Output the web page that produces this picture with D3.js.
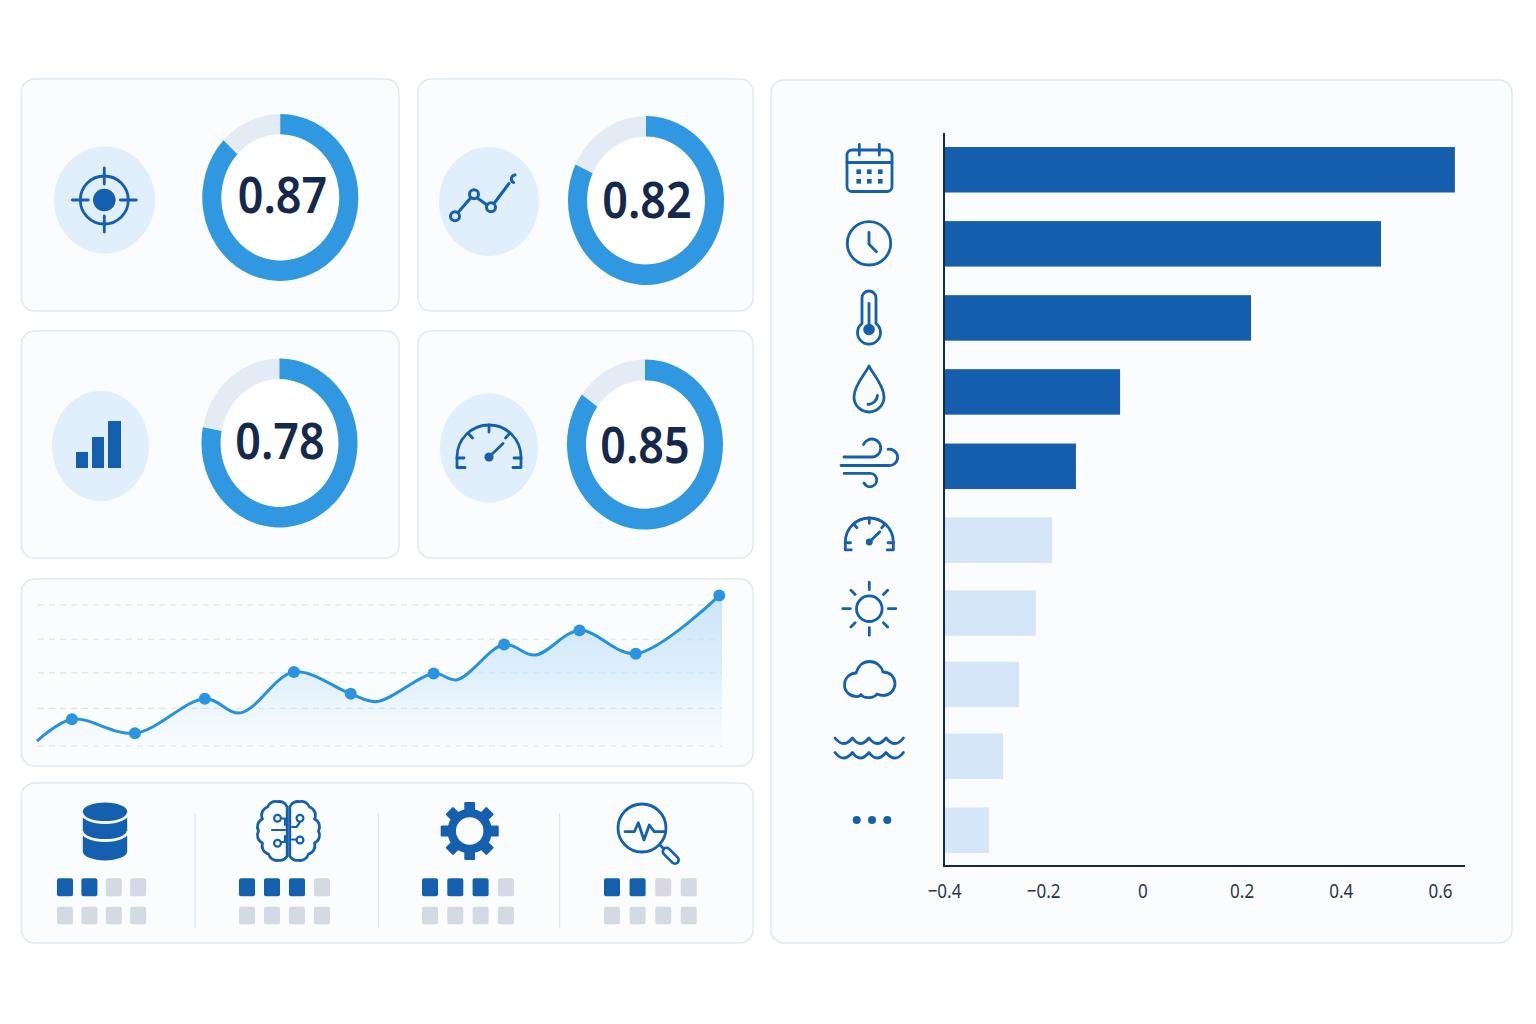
<!DOCTYPE html>
<html>
<head>
<meta charset="utf-8">
<script src="https://cdn.jsdelivr.net/npm/d3@7/dist/d3.min.js"></script>
<style>
html,body{margin:0;padding:0;background:#fff;}
svg{display:block;}
text{font-family:"Noto Sans",Roboto,sans-serif;}
</style>
</head>
<body>
<svg id="board" width="1536" height="1024"></svg>
<script>
// Score rings
const scoreValues = [0.87, 0.82, 0.78, 0.85];
const scoreLabels = ["0.87", "0.82", "0.78", "0.85"];

// Trend line (position along the run, level)
const trendPosition = [0, 5.1, 14.3, 24.5, 29.7, 37.5, 45.8, 49.6, 57.9, 61.3, 68.2, 72.7, 79.2, 87.4, 99.6];
const trendLevel = [3.5, 19, 9, 33.5, 23.5, 52.5, 37, 31.5, 51.5, 47, 72, 64.5, 82, 65.5, 106.7];
const trendMarked = [0, 1, 1, 1, 0, 1, 1, 0, 1, 0, 1, 0, 1, 1, 1];
const trendGrid = [0, 26.7, 51.8, 75.7, 100];

// Module status tiles: how many of eight are lit
const moduleNames = ["database", "brain", "gear", "search"];
const moduleLit = [2, 3, 3, 2];

// Horizontal bars
const factorNames = ["date", "time", "temperature", "humidity", "wind", "pressure", "sunshine", "cloud", "waves", "other"];
const factorValues = [0.63, 0.481, 0.219, -0.045, -0.134, -0.182, -0.215, -0.249, -0.281, -0.309];
const factorStrong = [1, 1, 1, 1, 1, 0, 0, 0, 0, 0];
const axisTicks = [-0.4, -0.2, 0, 0.2, 0.4, 0.6];
const axisLabels = ["\u22120.4", "\u22120.2", "0", "0.2", "0.4", "0.6"];

const BLUE = "#1560ae", SKY = "#2f98e0", PALE = "#e0effb", INK = "#15294c", CARD = "#fafcfe";
const svg = d3.select("#board");

// ---------- panels ----------
const panels = [
  [21.5, 79, 377.5, 232], [418, 79, 335, 232],
  [21.5, 331, 377.5, 227], [418, 331, 335, 227],
  [21.5, 579, 731.5, 187], [21.5, 783, 731.5, 160],
  [771, 80, 741, 863]
];
svg.append("g").selectAll("rect").data(panels).join("rect")
  .attr("x", d => d[0]).attr("y", d => d[1]).attr("width", d => d[2]).attr("height", d => d[3])
  .attr("rx", 13).attr("fill", CARD).attr("stroke", "#dfe9f3").attr("stroke-width", 1.5);

// ---------- score rings ----------
const ringLayout = [
  {cx: 280.3, cy: 197.5, sy: 1.07, tx: 282.5, ty: 195, bx: 104.5, by: 200, brx: 50.5, bry: 53.5},
  {cx: 646, cy: 200.5, sy: 1.083, tx: 647, ty: 200, bx: 489, by: 201.5, brx: 50, bry: 54.5},
  {cx: 279.5, cy: 443, sy: 1.083, tx: 280, ty: 441, bx: 100.5, by: 446, brx: 48.5, bry: 55},
  {cx: 645, cy: 444.5, sy: 1.09, tx: 645, ty: 445, bx: 489, by: 448, brx: 49, bry: 54.5}
];
const turn = d3.scaleLinear().domain([0, 1]).range([0, 2 * Math.PI]);
const ringArc = d3.arc().innerRadius(59).outerRadius(78);

scoreValues.forEach((v, i) => {
  const L = ringLayout[i];
  svg.append("ellipse").attr("cx", L.bx).attr("cy", L.by).attr("rx", L.brx).attr("ry", L.bry).attr("fill", PALE);
  const g = svg.append("g").attr("transform", `translate(${L.cx},${L.cy}) scale(1,${L.sy})`);
  g.append("circle").attr("r", 59).attr("fill", "#fff");
  g.append("path").attr("d", ringArc({startAngle: 0, endAngle: 2 * Math.PI})).attr("fill", "#e3ecf5");
  g.append("path").attr("d", ringArc({startAngle: 0, endAngle: turn(v)})).attr("fill", SKY);
  svg.append("text")
    .attr("transform", `translate(${L.tx},${L.ty + 18.3}) scale(.88,1)`)
    .attr("text-anchor", "middle").attr("font-size", 51).attr("font-weight", 600)
    .attr("fill", INK).text(scoreLabels[i]);
});

// ---------- icon helpers ----------
function icon(x, y, k = 1) {
  return svg.append("g").attr("transform", `translate(${x},${y}) scale(${k})`)
    .attr("fill", "none").attr("stroke", BLUE).attr("stroke-width", 2.8 / k)
    .attr("stroke-linecap", "round").attr("stroke-linejoin", "round");
}
const dot = (g, x, y, r) => g.append("circle").attr("cx", x).attr("cy", y).attr("r", r).attr("fill", BLUE).attr("stroke", "none");
const line = (g, d) => g.append("path").attr("d", d);

function gauge(x, y, k) {
  const g = icon(x, y, k);
  line(g, "M-24 10.5H-32V0A32 32 0 0 1 32 0V10.5H24");
  line(g, "M-32 1H-25M32 1H25M0 -32V-25M-21 -24L-16.5 -19M21 -24L16.5 -19");
  line(g, "M0 0L14 -13.5");
  dot(g, 0, 0, 4.6);
}

// target
{
  const g = icon(104.3, 200);
  g.append("circle").attr("r", 24);
  dot(g, 0, 0, 11.3);
  line(g, "M-32 0H-16M16 0H32M0 -32V-16M0 16V32");
}
// trend sparkline
{
  const g = icon(489, 201.5);
  g.attr("stroke-width", 3);
  line(g, "M-31 11L-18 -4M-11 -3L-2 3.5M5 2L20 -18");
  [[-34, 14.7], [-15, -7.2], [2, 5.8]].forEach(p =>
    g.append("circle").attr("cx", p[0]).attr("cy", p[1]).attr("r", 4.5));
  line(g, "M26 -26.5A4 4 0 0 0 24.5 -19");
}
// signal bars
{
  const g = svg.append("g").attr("fill", BLUE);
  [[76, 452, 12], [92, 437, 12], [108, 421, 13]].forEach(b =>
    g.append("rect").attr("x", b[0]).attr("y", b[1]).attr("width", b[2]).attr("height", 468 - b[1]));
}
gauge(489, 457, 1);

// ---------- trend chart ----------
const tx = d3.scaleLinear().domain([0, 100]).range([37, 722]);
const ty = d3.scaleLinear().domain([0, 100]).range([746, 605]);
const trend = trendPosition.map((p, i) => ({p, v: trendLevel[i], mark: trendMarked[i]}));

const defs = svg.append("defs");
const grad = defs.append("linearGradient").attr("id", "trendFill")
  .attr("gradientUnits", "userSpaceOnUse").attr("x1", 0).attr("x2", 0).attr("y1", 595).attr("y2", 750);
grad.append("stop").attr("offset", 0).attr("stop-color", "#cbe5f9");
grad.append("stop").attr("offset", .55).attr("stop-color", "#e0f0fc");
grad.append("stop").attr("offset", 1).attr("stop-color", "#f8fbfe").attr("stop-opacity", .5);

const curve = d3.curveCatmullRom.alpha(0.5);
const areaData = trend.concat([{p: 100, v: trendLevel[trendLevel.length - 1]}]);
svg.append("path").datum(areaData)
  .attr("d", d3.area().x(d => tx(d.p)).y0(ty(-1)).y1(d => ty(d.v)).curve(curve))
  .attr("fill", "url(#trendFill)");

svg.append("g").selectAll("line").data(trendGrid).join("line")
  .attr("x1", 38).attr("x2", 722).attr("y1", d => ty(d)).attr("y2", d => ty(d))
  .attr("stroke", "#cfe0ef").attr("stroke-opacity", .85).attr("stroke-width", 1.2).attr("stroke-dasharray", "6 5");

svg.append("path").datum(trend)
  .attr("d", d3.line().x(d => tx(d.p)).y(d => ty(d.v)).curve(curve))
  .attr("fill", "none").attr("stroke", "#2592de").attr("stroke-width", 3);
svg.append("g").selectAll("circle").data(trend.filter(d => d.mark)).join("circle")
  .attr("cx", d => tx(d.p)).attr("cy", d => ty(d.v)).attr("r", 6).attr("fill", "#2a94e2");

// ---------- module row ----------
const tileX = [57, 239, 422, 604];
const tilePitch = [24.4, 25, 25.3, 25.6];
moduleNames.forEach((name, m) => {
  const g = svg.append("g").attr("transform", `translate(${tileX[m]},0)`);
  g.selectAll("rect").data(d3.range(8)).join("rect")
    .attr("x", i => (i % 4) * tilePitch[m])
    .attr("y", i => i < 4 ? 878.3 : 906.7)
    .attr("width", 16).attr("height", i => i < 4 ? 18 : 17.6).attr("rx", 2)
    .attr("fill", i => i < moduleLit[m] ? BLUE : "#d4dae3");
});
svg.append("g").selectAll("line").data([195, 378.5, 559.5]).join("line")
  .attr("x1", d => d).attr("x2", d => d).attr("y1", 813).attr("y2", 928)
  .attr("stroke", "#dce7f1").attr("stroke-width", 1.3);

// database
{
  const g = svg.append("g").attr("transform", "translate(105,0)");
  g.append("path").attr("d", "M-22.2 811.5A22.2 9 0 0 1 22.2 811.5V851.5A22.2 9 0 0 1 -22.2 851.5Z").attr("fill", BLUE);
  g.selectAll("path.gap").data([813, 831]).join("path").attr("class", "gap")
    .attr("d", d => `M-23 ${d}A23 9.5 0 0 0 23 ${d}`)
    .attr("fill", "none").attr("stroke", CARD).attr("stroke-width", 2.8);
}
// brain
{
  const g = icon(288.5, 831);
  const lobe = [[-1.3, -24], [-11, -29.3], [-21, -24], [-26, -12], [-30, 0], [-26, 12], [-20, 23], [-10, 29.3], [-1.3, 25]];
  const outline = s => "M" + lobe.map((p, i) => {
    const q = `${s * p[0]} ${p[1]}`;
    return i ? `A8.6 8.6 0 0 ${s > 0 ? 0 : 1} ${q}` : q;
  }).join("") + "Z";
  line(g, outline(1));
  line(g, outline(-1));
  const c = g.append("g").attr("stroke-width", 2.2);
  line(c, "M-16.5 -1H-3.5M-7 -12.5H-3.5V-6M-3.5 5V11H-7");
  line(c, "M3.5 -4H8L11 -8M3.5 8.5H8");
  [[-11, -12.7], [-11, 12.3], [11.5, -12.7], [11.5, 9]].forEach(p =>
    c.append("circle").attr("cx", p[0]).attr("cy", p[1]).attr("r", 3.4));
}
// gear
{
  const g = svg.append("g").attr("transform", "translate(469.7,831)");
  g.selectAll("rect").data(d3.range(8)).join("rect")
    .attr("x", -5.4).attr("y", -29).attr("width", 10.8).attr("height", 14).attr("rx", 1.2)
    .attr("fill", BLUE).attr("transform", i => `rotate(${i * 45})`);
  g.append("circle").attr("r", 18).attr("fill", "none").attr("stroke", BLUE).attr("stroke-width", 8.5);
}
// magnifier with pulse
{
  const g = icon(642, 828);
  g.attr("stroke-width", 3);
  g.append("circle").attr("r", 24);
  g.attr("stroke-width", 2.8);
  line(g, "M-17 3.7H-7.7L-3.7 -5.3L2 12L7.3 -3L12.3 3.7H23.5");
  line(g, "M18 17L23 22");
  g.append("line").attr("x1", 24.5).attr("y1", 23.5).attr("x2", 33).attr("y2", 32).attr("stroke-width", 10);
  g.append("line").attr("x1", 24.5).attr("y1", 23.5).attr("x2", 33).attr("y2", 32).attr("stroke", CARD).attr("stroke-width", 4.6);
}

// ---------- bar chart ----------
const bx = d3.scaleLinear().domain([-0.4, 0.6]).range([944, 1440]);
const by = d3.scaleBand().domain(factorNames).range([147, 853]).paddingInner(0.38);
const rowShift = [0, 0.7, 1.4, 2, 3, 3.5, 3, 1, -0.6, 0];

svg.append("g").selectAll("rect").data(factorNames).join("rect")
  .attr("x", bx(-0.4) + 1).attr("y", (d, i) => by(d) + rowShift[i])
  .attr("width", (d, i) => bx(factorValues[i]) - bx(-0.4) - 1)
  .attr("height", by.bandwidth())
  .attr("fill", (d, i) => factorStrong[i] ? "#155eae" : "#d4e6f7");

const xAxis = svg.append("g").attr("transform", "translate(0,866)")
  .call(d3.axisBottom(bx).tickValues(axisTicks).tickSize(0).tickPadding(0)
    .tickFormat((d, i) => axisLabels[i]));
xAxis.select(".domain").remove();
xAxis.selectAll("text")
  .attr("font-size", 20).attr("fill", "#26364f")
  .attr("font-family", "'Noto Sans'").attr("dy", 0).attr("y", 0)
  .attr("transform", "translate(0,31.5) scale(.85,1)");

svg.append("path").attr("d", "M944 133V866H1465")
  .attr("fill", "none").attr("stroke", INK).attr("stroke-width", 2);

// factor icons
{
  let g = icon(0, 0);
  g.append("rect").attr("x", 847).attr("y", 150).attr("width", 45).attr("height", 41.5).attr("rx", 5);
  line(g, "M847 162.5H892M859.3 144.5V155M879.3 144.5V155");
  [858.7, 869.3, 880.3].forEach(x => [171.7, 181.3].forEach(y =>
    g.append("rect").attr("x", x - 2.3).attr("y", y - 2.3).attr("width", 4.6).attr("height", 4.6).attr("fill", BLUE).attr("stroke", "none")));

  g = icon(869, 243.3);
  g.append("circle").attr("r", 21.7);
  line(g, "M0 -11V1L7.5 8.5");

  g = icon(869, 329.5);
  line(g, "M-7 -6V-31.5A7 7 0 0 1 7 -31.5V-6A11.5 11.5 0 1 1 -7 -6Z");
  line(g, "M0 -26V0");
  dot(g, 0, 0, 5.8);

  g = icon(869, 396);
  line(g, "M0 -30C3 -23 15 -11 15 1A15 15 0 0 1 -15 1C-15 -11 -3 -23 0 -30Z");
  line(g, "M-1 8.5C3.5 8.5 8 5 8.5 -0.5");

  g = icon(0, 0);
  line(g, "M844 457H871.7A9 9 0 1 0 863.5 444.5");
  line(g, "M841 465.5H888.3A8.2 8.2 0 1 0 888 449.3");
  line(g, "M844 473.3H870A6.7 6.7 0 1 1 864 483");

  gauge(869.3, 542, 0.75);

  g = icon(869.3, 608.7);
  g.append("circle").attr("r", 12.8);
  d3.range(8).forEach(i => {
    const a = i * Math.PI / 4, c = Math.cos(a), s = Math.sin(a);
    const r0 = i % 2 ? 20 : 19, r1 = i % 2 ? 26 : 26.5;
    line(g, `M${r0 * c} ${r0 * s}L${r1 * c} ${r1 * s}`);
  });

  g = icon(0, 0);
  line(g, "M858 696.5C850 697 844.5 691.5 844.5 685C844.5 678 850 673 856 673C858 666 863 661.5 869.5 661.5C876 661.5 881.5 666 883 672C890 672 895 677 895 683.5C895 690 890 695 884 695.5C881 695.5 879 695 877 694C874 698.5 864 699 861 694.5C860 696 859 696.5 858 696.5Z");

  g = icon(0, 0);
  [738, 752.5].forEach(y => line(g,
    `M835 ${y}Q843.5 ${y + 11} 852.5 ${y}Q860 ${y + 11} 869 ${y}Q877 ${y + 11} 886 ${y}Q895 ${y + 11} 903.5 ${y}`));

  g = svg.append("g");
  [856.7, 872, 887.3].forEach(x => dot(g, x, 820, 4));
}
</script>
</body>
</html>
